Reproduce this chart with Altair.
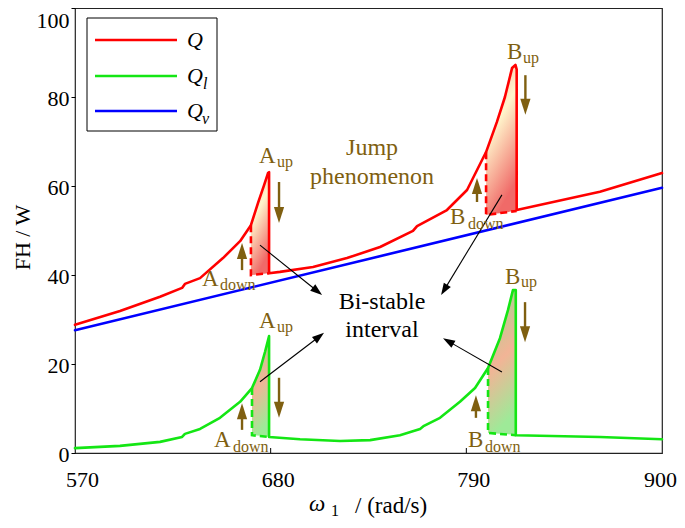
import math
import altair as alt
import pandas as pd

# ---------------- data ----------------
x_ticks = [570, 680, 790, 900]
y_ticks = [0, 20, 40, 60, 80, 100]

# Q (red): upper branch -> jump A -> lower branch -> jump B -> lower branch
q_x = [570, 595.3, 617.8, 630.2, 631.8, 640.3, 653.2, 662.8, 668.9, 672.9, 676.3, 678.5, 679.1, 679.1,
       685.2, 703.8, 722.9, 741.5, 760.0, 762.3, 779.1, 790.4, 799.4, 801.1, 807.2, 811.7, 815.7, 817.6,
       818.3, 818.3, 865.1, 900]
q_y = [28.8, 31.9, 35.1, 37.1, 38.0, 39.3, 43.8, 47.6, 51.2, 56.2, 60.2, 62.9, 63.1, 40.4,
       40.7, 41.8, 43.8, 46.3, 49.9, 51.0, 54.6, 59.1, 66.3, 67.6, 74.4, 80.0, 86.5, 87.2,
       86.2, 54.6, 58.7, 62.9]

# Q_l (green)
ql_x = [570, 595.3, 617.8, 630.2, 631.8, 640.3, 651.5, 662.8, 669.5, 674.0, 676.8, 679.1, 679.1,
        696.5, 719.0, 735.9, 752.7, 764.0, 766.2, 775.2, 786.4, 794.9, 802.2, 808.9, 813.4, 816.2,
        817.8, 817.8, 865.1, 900]
ql_y = [1.1, 1.6, 2.5, 3.6, 4.3, 5.4, 7.9, 11.5, 14.6, 18.7, 22.7, 26.3, 3.6,
        3.1, 2.7, 2.9, 4.0, 5.4, 6.1, 7.9, 11.5, 14.6, 19.1, 25.8, 32.1, 36.6,
        36.6, 4.0, 3.6, 3.1]

# Q_v (blue)
qv_x = [570, 735, 900]
qv_y = [27.6, 43.6, 59.6]

# dashed jump-up paths
dash_id = ["QA", "QA", "QA", "QB", "QB", "QB", "LA", "LA", "LA", "LB", "LB", "LB"]
dash_series = ["Q", "Q", "Q", "Q", "Q", "Q", "Ql", "Ql", "Ql", "Ql", "Ql", "Ql"]
dash_x = [668.9, 668.9, 679.1, 801.1, 801.1, 818.3, 669.5, 669.5, 679.1, 802.2, 802.2, 817.8]
dash_y = [51.2, 40.0, 40.4, 67.6, 53.5, 54.4, 14.6, 4.0, 3.6, 19.1, 4.5, 4.0]

# shaded bi-stable regions
qa_x = [668.9, 672.9, 676.3, 678.5, 679.1]
qa_hi = [51.2, 56.2, 60.2, 62.9, 63.1]
qa_lo = [40.0, 40.1, 40.3, 40.4, 40.4]
qb_x = [801.1, 807.2, 811.7, 815.7, 817.6, 818.3]
qb_hi = [67.6, 74.4, 80.0, 86.5, 87.2, 86.2]
qb_lo = [53.5, 53.8, 54.0, 54.3, 54.4, 54.5]
la_x = [669.5, 674.0, 676.8, 679.1]
la_hi = [14.6, 18.7, 22.7, 26.3]
la_lo = [4.0, 3.9, 3.7, 3.6]
lb_x = [802.2, 808.9, 813.4, 816.2, 817.8]
lb_hi = [19.1, 25.8, 32.1, 36.6, 36.6]
lb_lo = [4.5, 4.3, 4.2, 4.1, 4.0]

# brown jump arrows: (x, y_start, y_end)
jump_arrows = [(684.7, 60.9, 51.7), (663.9, 41.1, 47.2),
               (823.2, 84.9, 76.0), (796.0, 56.4, 61.8),
               (684.7, 16.9, 7.9), (663.9, 5.2, 11.2),
               (823.0, 33.9, 24.9), (795.4, 7.9, 13.0)]

# black pointer arrows: (x0, y0, x1, y1)
pointer_arrows = [(674.0, 46.7, 708.9, 35.5), (810.0, 58.0, 775.8, 35.5),
                  (674.0, 16.0, 710.0, 27.0), (810.0, 18.2, 776.9, 25.8)]

# brown labels: (main letter, x, y, subscript, sub x, sub y)
point_labels = [("A", 673.4, 66.7, "up", 683.6, 65.4),
                ("A", 673.4, 29.7, "up", 683.6, 28.3),
                ("A", 641.4, 39.1, "down", 651.5, 37.8),
                ("A", 648.1, 2.9, "down", 658.8, 1.3),
                ("B", 812.9, 90.1, "up", 821.9, 88.8),
                ("B", 811.7, 39.6, "up", 820.7, 38.4),
                ("B", 780.8, 53.0, "down", 790.9, 51.5),
                ("B", 790.9, 2.9, "down", 800.5, 1.3)]

jump_text = ["Jump", "phenomenon"]
jump_text_x = [737.0, 737.0]
jump_text_y = [68.5, 62.0]
bistable_text = ["Bi-stable", "interval"]
bistable_text_x = [742.6, 742.6]
bistable_text_y = [33.9, 27.6]

# ---------------- styling ----------------
FONT = "Liberation Serif"
BROWN = "#7f5f10"
RED = "#ff0000"
GREEN = "#14e614"
BLUE = "#0000ff"
W, H = 587, 445
SX, SY = W / 330.0, H / 100.0

XS = alt.Scale(domain=[570, 900], nice=False, zero=False)
YS = alt.Scale(domain=[0, 100], nice=False, zero=False)

x_axis = alt.Axis(values=x_ticks, title=None, domain=False, grid=False, ticks=False,
                  labelFont=FONT, labelFontSize=22, labelColor="black", labelPadding=16,
                  labelOffset={"condition": {"test": "datum.value >= 900", "value": -2},
                               "value": 7},
                  labelFlush=False, labelOverlap=False)
y_axis = alt.Axis(values=y_ticks, title="FH / W", domain=False, grid=False, ticks=True,
                  tickSize=4, tickColor="black", labelFont=FONT, labelFontSize=22,
                  labelColor="black", labelPadding=2, labelFlush=False, labelOverlap=False,
                  labelBaseline={"condition": {"test": "datum.value >= 100", "value": "top"},
                                 "value": "middle"},
                  labelOffset={"condition": {"test": "datum.value >= 100", "value": 2},
                               "value": 1},
                  titleFont=FONT, titleFontSize=22, titleFontWeight="normal", titleColor="black",
                  titleAngle=270, titleX=-53, titleY=229, titleAlign="center",
                  titleBaseline="middle")


def X(f):
    return alt.X(f, type="quantitative", scale=XS, axis=x_axis)


def Y(f):
    return alt.Y(f, type="quantitative", scale=YS, axis=y_axis)


series_dom = ["Q", "Ql", "Qv"]
series_rng = [RED, GREEN, BLUE]

lines_df = pd.concat([
    pd.DataFrame({"x": q_x, "y": q_y, "s": "Q", "i": range(len(q_x))}),
    pd.DataFrame({"x": ql_x, "y": ql_y, "s": "Ql", "i": range(len(ql_x))}),
    pd.DataFrame({"x": qv_x, "y": qv_y, "s": "Qv", "i": range(len(qv_x))}),
])
dash_df = pd.DataFrame({"x": dash_x, "y": dash_y, "id": dash_id, "s": dash_series,
                        "i": range(len(dash_x))})

color_enc = alt.Color("s:N", scale=alt.Scale(domain=series_dom, range=series_rng), legend=None)

red_grad = alt.Gradient(gradient="linear", x1=0, y1=0, x2=0.35, y2=1, stops=[
    alt.GradientStop(color="#f7a49c", offset=0),
    alt.GradientStop(color="#fff6cc", offset=0.45),
    alt.GradientStop(color="#f06a68", offset=1)])
green_grad = alt.Gradient(gradient="linear", x1=0, y1=0, x2=0.2, y2=1, stops=[
    alt.GradientStop(color="#a0d890", offset=0),
    alt.GradientStop(color="#f2b496", offset=0.55),
    alt.GradientStop(color="#9eea98", offset=1)])


def area_layer(xs, hi, lo, grad):
    df = pd.DataFrame({"x": xs, "hi": hi, "lo": lo})
    return alt.Chart(df).mark_area(color=grad, line=False, opacity=1).encode(
        x=X("x"), y=Y("hi"), y2="lo")


areas = [area_layer(qa_x, qa_hi, qa_lo, red_grad), area_layer(qb_x, qb_hi, qb_lo, red_grad),
         area_layer(la_x, la_hi, la_lo, green_grad), area_layer(lb_x, lb_hi, lb_lo, green_grad)]

main_lines = alt.Chart(lines_df).mark_line(strokeWidth=2.6, strokeCap="round", strokeJoin="round").encode(
    x=X("x"), y=Y("y"), color=color_enc, detail="s:N", order=alt.Order("i:Q"))

dash_lines = alt.Chart(dash_df).mark_line(strokeWidth=2.6, strokeDash=[7, 4]).encode(
    x=X("x"), y=Y("y"), color=color_enc, detail="id:N", order=alt.Order("i:Q"))

x_tick_marks = alt.Chart(pd.DataFrame({"t": x_ticks[1:3]})).mark_rule(color="black", strokeWidth=1).encode(
    x=X("t"), y=alt.value(H), y2=alt.value(H - 5))


# arrows
def arrow_rows(arrows, head_len):
    segs, heads = [], []
    for (x0, y0, x1, y1) in arrows:
        dxp = (x1 - x0) * SX
        dyp = -(y1 - y0) * SY
        L = math.hypot(dxp, dyp)
        ang = math.degrees(math.atan2(-dxp, dyp)) % 360
        f = max(0.0, (L - head_len * 0.7) / L)
        segs.append({"x0": x0, "y0": y0, "x1": x0 + (x1 - x0) * f, "y1": y0 + (y1 - y0) * f})
        heads.append({"x": x1, "y": y1, "a": ang})
    return pd.DataFrame(segs), pd.DataFrame(heads)


brown_seg, brown_head = arrow_rows([(x, a, x, b) for (x, a, b) in jump_arrows], 16)
black_seg, black_head = arrow_rows(pointer_arrows, 12)

HEAD_BROWN = "M 0 0 L -0.32 -1 L 0.32 -1 Z"
HEAD_BLACK = "M 0 0 L -0.34 -1 L 0.34 -1 Z"

brown_rules = alt.Chart(brown_seg).mark_rule(color=BROWN, strokeWidth=2.4).encode(
    x=X("x0"), y=Y("y0"), x2="x1", y2="y1")
brown_heads = alt.Chart(brown_head).mark_point(shape=HEAD_BROWN, size=1024, filled=True,
                                               color=BROWN, opacity=1).encode(
    x=X("x"), y=Y("y"), angle=alt.Angle("a:Q", scale=None))
black_rules = alt.Chart(black_seg).mark_rule(color="black", strokeWidth=1.1).encode(
    x=X("x0"), y=Y("y0"), x2="x1", y2="y1")
black_heads = alt.Chart(black_head).mark_point(shape=HEAD_BLACK, size=576, filled=True,
                                               color="black", opacity=1).encode(
    x=X("x"), y=Y("y"), angle=alt.Angle("a:Q", scale=None))

# brown point labels
lab_df = pd.DataFrame([{"t": a, "x": b, "y": c} for (a, b, c, _, _, _) in point_labels])
sub_df = pd.DataFrame([{"t": d, "x": e, "y": f} for (_, _, _, d, e, f) in point_labels])
labels_main = alt.Chart(lab_df).mark_text(font=FONT, fontSize=23, color=BROWN, align="left",
                                          baseline="middle").encode(x=X("x"), y=Y("y"), text="t:N")
labels_sub = alt.Chart(sub_df).mark_text(font=FONT, fontSize=16, color=BROWN, align="left",
                                         baseline="middle").encode(x=X("x"), y=Y("y"), text="t:N")

jump_df = pd.DataFrame({"t": jump_text, "x": jump_text_x, "y": jump_text_y})
jump_lab = alt.Chart(jump_df).mark_text(font=FONT, fontSize=24, color=BROWN, align="center",
                                        baseline="middle").encode(x=X("x"), y=Y("y"), text="t:N")
bi_df = pd.DataFrame({"t": bistable_text, "x": bistable_text_x, "y": bistable_text_y})
bi_lab = alt.Chart(bi_df).mark_text(font=FONT, fontSize=24, color="black", align="center",
                                    baseline="middle").encode(x=X("x"), y=Y("y"), text="t:N")

# legend (drawn by hand so that subscripts render)
one = pd.DataFrame({"k": [0]})
leg_box = alt.Chart(one).mark_rect(fill="white", stroke="black", strokeWidth=1).encode(
    x=alt.value(12), x2=alt.value(142), y=alt.value(10), y2=alt.value(123))
leg_layers = [leg_box]
for yy, col in zip([32, 68, 103], series_rng):
    leg_layers.append(alt.Chart(one).mark_rule(color=col, strokeWidth=2.6).encode(
        x=alt.value(20), x2=alt.value(102), y=alt.value(yy)))
    leg_layers.append(alt.Chart(one).mark_text(text="Q", font=FONT, fontSize=22, fontStyle="italic",
                                               align="left", baseline="middle", color="black").encode(
        x=alt.value(112), y=alt.value(yy)))
leg_layers.append(alt.Chart(one).mark_text(text="l", font=FONT, fontSize=16, fontStyle="italic",
                                           align="left", baseline="middle", color="black").encode(
    x=alt.value(128), y=alt.value(76)))
leg_layers.append(alt.Chart(one).mark_text(text="ν", font=FONT, fontSize=16, fontStyle="italic",
                                           align="left", baseline="middle", color="black").encode(
    x=alt.value(127), y=alt.value(111)))

# x-axis title pieces
xt = [
    alt.Chart(one).mark_text(text="ω", font=FONT, fontSize=23, fontStyle="italic", align="center",
                             baseline="middle", color="black").encode(x=alt.value(242), y=alt.value(496)),
    alt.Chart(one).mark_text(text="1", font=FONT, fontSize=16, align="center",
                             baseline="middle", color="black").encode(x=alt.value(260), y=alt.value(503)),
    alt.Chart(one).mark_text(text="/ (rad/s)", font=FONT, fontSize=23, align="left",
                             baseline="middle", color="black").encode(x=alt.value(280), y=alt.value(498)),
]

chart = alt.layer(
    *areas, main_lines, dash_lines, x_tick_marks,
    brown_rules, brown_heads, black_rules, black_heads,
    labels_main, labels_sub, jump_lab, bi_lab,
    *leg_layers, *xt,
).properties(
    width=W, height=H,
    autosize=alt.AutoSizeParams(type="none"),
    padding={"left": 67, "top": 0, "right": 15, "bottom": 67},
).configure(font=FONT, view=alt.ViewConfig(stroke="#222", strokeWidth=1.2))

chart.save("out.html", embed_options={"renderer": "svg", "actions": False})
